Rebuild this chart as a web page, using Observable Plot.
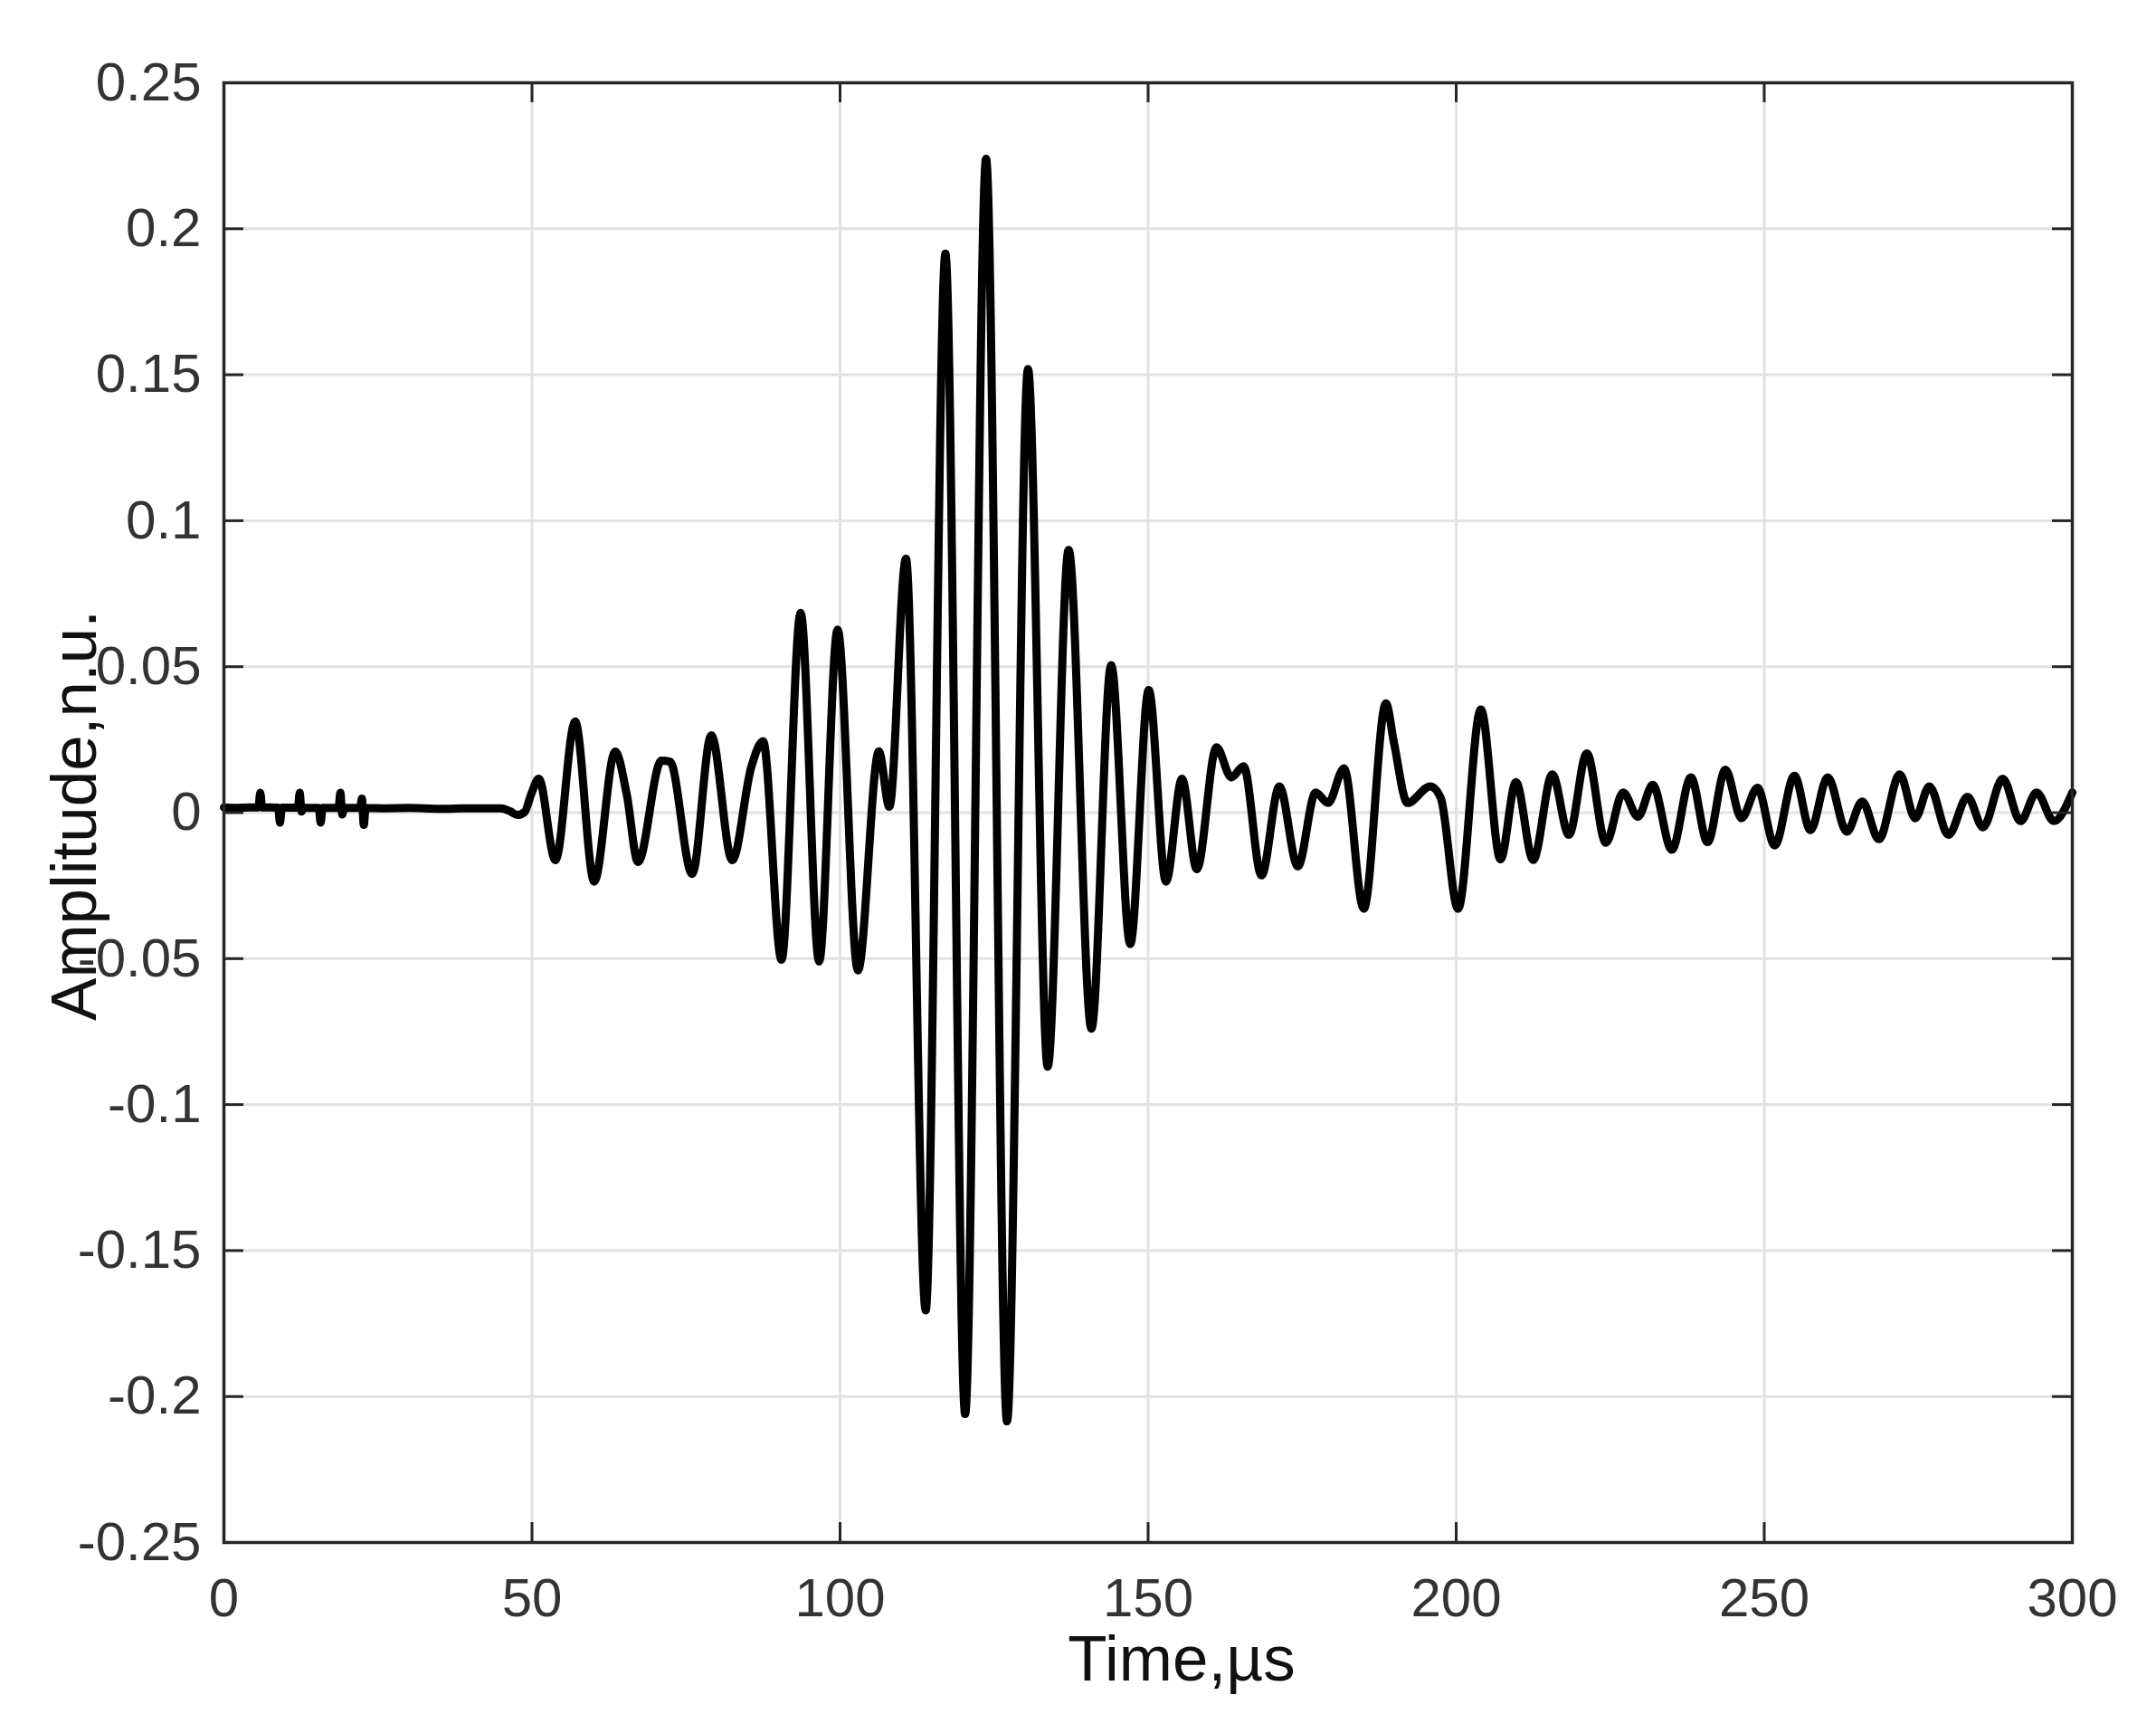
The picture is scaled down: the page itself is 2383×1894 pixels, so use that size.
<!DOCTYPE html>
<html>
<head>
<meta charset="utf-8">
<script src="https://cdn.jsdelivr.net/npm/d3@7"></script>
<script src="https://cdn.jsdelivr.net/npm/@observablehq/plot@0.6"></script>
<style>
  html, body { margin: 0; padding: 0; background: #ffffff; }
  #chart svg { display: block; }
</style>
</head>
<body>
<div id="chart"></div>
<script>
// ---- Tick values and labels ----
const xTicks = [0, 50, 100, 150, 200, 250, 300];
const xTickLabels = ["0", "50", "100", "150", "200", "250", "300"];
const yTicks = [0.25, 0.2, 0.15, 0.1, 0.05, 0, -0.05, -0.1, -0.15, -0.2, -0.25];
const yTickLabels = ["0.25", "0.2", "0.15", "0.1", "0.05", "0", "-0.05", "-0.1", "-0.15", "-0.2", "-0.25"];
const xTitle = "Time,µs";
const yTitle = "Amplitude,n.u.";

// ---- Waveform: time (µs) and amplitude (n.u.) ----
const timeUs = [
  0, 2, 4, 5.6, 5.9, 6.2, 8.8, 9.1, 9.4, 12.0, 12.3, 12.6, 12.9, 15.4, 15.7, 16.0,
  18.6, 18.9, 19.2, 19.5, 22.1, 22.4, 22.7, 23.0, 26, 30, 35, 40, 45, 46.5, 47.6, 48.8, 49.9,
  51.1, 53.8, 57.0, 60.1, 63.5, 65.4, 67.2, 71.0, 72.4, 76.0, 79.1, 82.5, 85.6, 87.5,
  90.5, 93.6, 96.6, 99.6, 102.9, 106.3, 108.0, 110.7, 113.9, 117.1, 120.3, 123.7,
  127.1, 130.5, 133.7, 137.1, 140.8, 144.0, 147.1, 150.1, 152.9, 155.5, 157.9, 161.1,
  163.5, 165.5, 168.4, 171.3, 174.3, 177.2, 179.2, 181.8, 185.0, 188.6, 189.9, 192.1,
  195.8, 197.5, 200.3, 204.0, 207.2, 209.7, 212.5, 215.6, 218.3, 221.2, 224.3, 227.1,
  229.5, 231.9, 235.0, 238.1, 240.8, 243.7, 246.3, 248.9, 251.7, 254.9, 257.5, 260.3,
  263.4, 265.9, 268.6, 272.0, 274.5, 276.8, 279.9, 283.0, 285.5, 288.7, 291.6, 294.2,
  297.0, 300.0
];
const amplitude = [
  0.0018, 0.0016, 0.0018, 0.0018, 0.0068, 0.0018, 0.0017, -0.0034, 0.0017, 0.0017, 0.0068, 0.0004, 0.0017, 0.0016, -0.0034, 0.0016,
  0.0016, 0.0068, -0.0006, 0.0016, 0.0016, 0.0048, -0.0042, 0.0016, 0.0015, 0.0016, 0.0013, 0.0015, 0.0015, 0.0004, -0.0008, 0.0002, 0.0065,
  0.0116, -0.0163, 0.0312, -0.0236, 0.0209, 0.0060, -0.0169, 0.0178, 0.0175, -0.0210, 0.0265, -0.0163, 0.0157, 0.0245,
  -0.0504, 0.0684, -0.0510, 0.0627, -0.0540, 0.0210, 0.0020, 0.0870, -0.1705, 0.1915, -0.2060, 0.2240,
  -0.2085, 0.1520, -0.0870, 0.0900, -0.0740, 0.0505, -0.0450, 0.0420, -0.0236, 0.0116, -0.0194, 0.0224,
  0.0121, 0.0159, -0.0215, 0.0090, -0.0184, 0.0069, 0.0033, 0.0152, -0.0329, 0.0374, 0.0240, 0.0033,
  0.0090, 0.0050, -0.0329, 0.0353, -0.0160, 0.0105, -0.0162, 0.0131, -0.0076, 0.0203, -0.0103, 0.0069,
  -0.0014, 0.0095, -0.0127, 0.0121, -0.0101, 0.0147, -0.0019, 0.0085, -0.0112, 0.0126, -0.0060, 0.0121,
  -0.0065, 0.0038, -0.0091, 0.0131, -0.0019, 0.0090, -0.0076, 0.0054, -0.0050, 0.0116, -0.0029, 0.0069,
  -0.0029, 0.0069
];

const wave = timeUs.map((t, i) => ({t, a: amplitude[i]}));

// ---- Layout ----
const W = 2383, H = 1894;
const mL = 247, mR = 93, mT = 91, mB = 190;
const plotW = W - mL - mR, plotH = H - mT - mB;
const tickLen = 22;
const axisColor = "#262626";
const labelColor = "#333333";
const gridColor = "#e2e2e2";

const chart = Plot.plot({
  width: W,
  height: H,
  marginLeft: mL,
  marginRight: mR,
  marginTop: mT,
  marginBottom: mB,
  style: {fontFamily: "'Liberation Sans', Arial, Helvetica, sans-serif", background: "#ffffff"},
  x: {domain: [0, 300]},
  y: {domain: [-0.25, 0.25]},
  marks: [
    Plot.gridX(xTicks, {stroke: gridColor, strokeOpacity: 1, strokeWidth: 3}),
    Plot.gridY(yTicks, {stroke: gridColor, strokeOpacity: 1, strokeWidth: 3}),
    Plot.line(wave, {x: "t", y: "a", stroke: "#000000", strokeWidth: 9, curve: "monotone-x", strokeLinejoin: "round", strokeLinecap: "round"}),
    Plot.frame({stroke: axisColor, strokeWidth: 3.5}),
    // inward ticks on all four sides
    Plot.ruleX(xTicks, {x: d => d, stroke: axisColor, strokeWidth: 3, insetTop: plotH - tickLen}),
    Plot.ruleX(xTicks, {x: d => d, stroke: axisColor, strokeWidth: 3, insetBottom: plotH - tickLen}),
    Plot.ruleY(yTicks, {y: d => d, stroke: axisColor, strokeWidth: 3, insetRight: plotW - tickLen}),
    Plot.ruleY(yTicks, {y: d => d, stroke: axisColor, strokeWidth: 3, insetLeft: plotW - tickLen}),
    Plot.axisX({
      ticks: xTicks, tickSize: 0, tickPadding: 39, fontSize: 60, fill: labelColor, label: null,
      tickFormat: d => xTickLabels[xTicks.indexOf(d)]
    }),
    Plot.axisY({
      ticks: yTicks, tickSize: 0, tickPadding: 25, fontSize: 60, fill: labelColor, label: null,
      tickFormat: d => yTickLabels[yTicks.findIndex(v => Math.abs(v - d) < 1e-9)]
    }),
    Plot.text([xTitle], {
      text: d => d, frameAnchor: "bottom", lineAnchor: "bottom", textAnchor: "middle",
      dx: 37, dy: 152, fontSize: 71, fill: "#111111"
    }),
    Plot.text([yTitle], {
      text: d => d, frameAnchor: "left", lineAnchor: "bottom", textAnchor: "middle",
      rotate: -90, dx: -142, dy: 3, fontSize: 71, fill: "#111111"
    })
  ]
});

document.getElementById("chart").appendChild(chart);
</script>
</body>
</html>
